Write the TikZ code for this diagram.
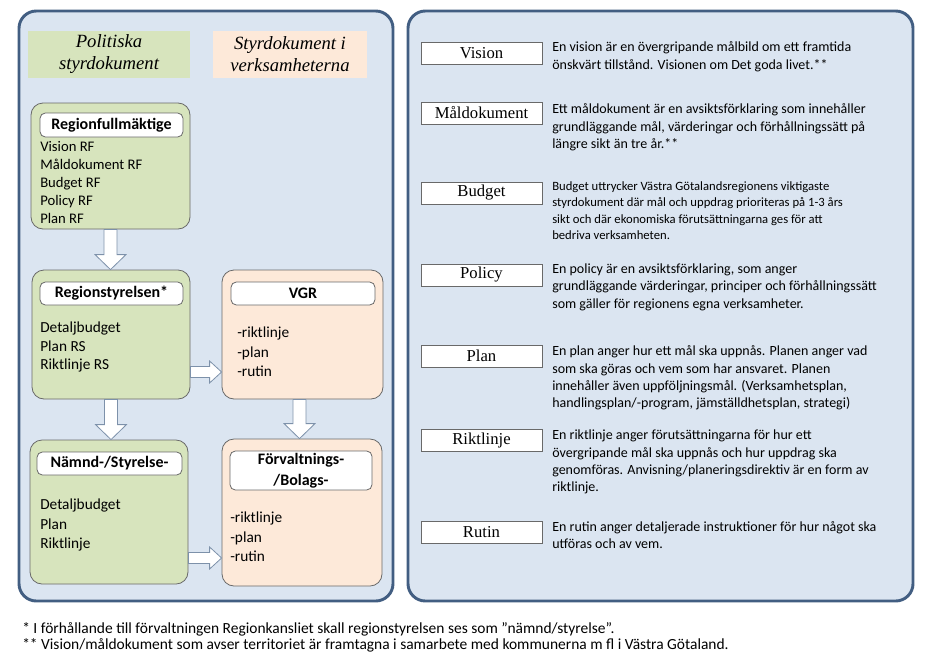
\documentclass[tikz,border=0pt]{standalone}
\usepackage{fontspec}
\setmainfont{Carlito}
\newfontfamily\labelfont{Liberation Serif}
\usepackage{tikz}
\usetikzlibrary{calc,positioning}

\definecolor{panelblue}{RGB}{219,229,241}
\definecolor{panelline}{RGB}{66,94,130}
\definecolor{polgreen}{RGB}{215,228,189}
\definecolor{verkpeach}{RGB}{253,233,217}
\definecolor{boxline}{RGB}{105,105,105}
\definecolor{arrowline}{RGB}{125,145,170}

\tikzset{
  panel/.style={draw=panelline, line width=2.2pt, fill=panelblue, rounded corners=13pt},
  header/.style={inner sep=0pt, align=center, font=\labelfont\itshape\fontsize{14}{16.5}\selectfont},
  orgbox/.style={draw=boxline, line width=0.6pt, rounded corners=9pt, inner sep=0pt},
  titlebox/.style={draw=boxline, line width=0.6pt, fill=white, rounded corners=4pt, inner sep=0pt,
    align=center, minimum height=17.25pt, font=\bfseries\fontsize{12}{15.5}\selectfont},
  doclist/.style={inner sep=0pt, anchor=north west, align=left, font=\fontsize{11}{13.5}\selectfont},
  termbox/.style={draw=boxline, line width=0.6pt, fill=white, inner sep=0pt, minimum width=90.75pt,
    minimum height=16.5pt, font=\labelfont\fontsize{12.5}{14}\selectfont},
  termtext/.style={inner sep=0pt, anchor=north west, align=left, font=\fontsize{10.5}{13}\selectfont},
  fatarrow/.style={draw=arrowline, line width=0.6pt, fill=white, line join=miter},
  footnote/.style={inner sep=0pt, anchor=west, font=\fontsize{11.6}{13}\selectfont},
}

% 粗箭头
\newcommand{\fatdown}[2]{%
  \draw[fatarrow] let \p1=#1, \p2=#2 in
    (\x1-4.9pt,\y1) -- (\x1-4.9pt,\y2+11.25pt) -- (\x1-11.6pt,\y2+11.25pt) -- (\x1,\y2)
    -- (\x1+11.6pt,\y2+11.25pt) -- (\x1+4.9pt,\y2+11.25pt) -- (\x1+4.9pt,\y1) -- cycle;}
\newcommand{\fatright}[2]{%
  \draw[fatarrow] let \p1=#1, \p2=#2 in
    (\x1,\y1+4.1pt) -- (\x2-9pt,\y1+4.1pt) -- (\x2-9pt,\y1+8.25pt) -- (\x2,\y1)
    -- (\x2-9pt,\y1-8.25pt) -- (\x2-9pt,\y1-4.1pt) -- (\x1,\y1-4.1pt) -- cycle;}

\begin{document}
\begin{tikzpicture}[x=0.75pt,y=-0.75pt]

        % 画布与两个面板
        \useasboundingbox (0,0) rectangle (930,653);
        \fill[white] (0,0) rectangle (930,653);
        \draw[panel] (19,11) rectangle (393,601);
        \draw[panel] (408,11) rectangle (913,601);

        % 栏目标题
        \node[header, fill=polgreen, minimum width=121.5pt, minimum height=35.25pt] (polhead) at (109,54) {Politiska\\styrdokument};
        \node[header, fill=verkpeach, minimum width=115.5pt, minimum height=35.25pt] (verkhead) at (290,54) {Styrdokument i\\verksamheterna};

        % 区域议会
        \node[orgbox, fill=polgreen, minimum width=119.25pt, minimum height=94.5pt] (rf) at (110.5,166) {};
        \node[titlebox, minimum width=107.25pt, minimum height=18pt] (rftitle) at (111.5,125) {Regionfullmäktige};
        \node[doclist] (rflist) at (40,141) {Vision RF\\Måldokument RF\\Budget RF\\Policy RF\\Plan RF};

        % 区域执行委员会
        \node[orgbox, fill=polgreen, minimum width=118.5pt, minimum height=96.75pt] (rs) at (111,334.5) {};
        \node[titlebox, minimum width=107.25pt] (rstitle) at (111.5,293.5) {Regionstyrelsen*};
        \node[doclist, font=\fontsize{11.5}{13.9}\selectfont] (rslist) at (40,322) {Detaljbudget\\Plan RS\\Riktlinje RS};

        % VGR
        \node[orgbox, fill=verkpeach, minimum width=120.75pt, minimum height=96.75pt] (vgr) at (302.5,334.5) {};
        \node[titlebox, minimum width=108pt] (vgrtitle) at (303,293.5) {VGR};
        \node[doclist, font=\fontsize{11.5}{14.6}\selectfont] (vgrlist) at (237,327) {-riktlinje\\-plan\\-rutin};

        % 委员会
        \node[orgbox, fill=polgreen, minimum width=118.5pt, minimum height=108pt] (nd) at (109,512) {};
        \node[titlebox, minimum width=108.75pt] (ndtitle) at (109.5,463.5) {Nämnd-/Styrelse-};
        \node[doclist, font=\fontsize{11.5}{14.6}\selectfont] (ndlist) at (40,499) {Detaljbudget\\Plan\\Riktlinje};

        % 管理机构/公司
        \node[orgbox, fill=verkpeach, minimum width=120pt, minimum height=110.25pt] (fv) at (302,512.5) {};
        \node[titlebox, minimum width=106.5pt, minimum height=29.25pt] (fvtitle) at (301,470.5) {Förvaltnings-\\/Bolags-};
        \node[doclist, font=\fontsize{11.5}{14.6}\selectfont] (fvlist) at (230,512) {-riktlinje\\-plan\\-rutin};

        % 箭头
        \coordinate (rsout) at (rs.east |- 0,372);
        \coordinate (vgrin) at (vgr.west |- 0,372);
        \coordinate (ndout) at (nd.east |- 0,558);
        \coordinate (fvin) at (fv.west |- 0,558);
        \coordinate (vgrout) at ($(vgr.south)+(-3,0)$);
        \coordinate (fvtop) at ($(fv.north)+(-2.5,0)$);
        \fatdown{(rf.south)}{(rs.north)}
        \fatdown{(rs.south)}{(nd.north)}
        \fatdown{(vgrout)}{(fvtop)}
        \fatright{(rsout)}{(vgrin)}
        \fatright{(ndout)}{(fvin)}

        % 术语方框
        \foreach \tname/\ty/\tlab in {vis/53/Vision, mal/113/Måldokument, bud/193/Budget, pol/275/Policy, pla/356/Plan, rik/440/Riktlinje, rut/532/Rutin}
        {
          \node[termbox] (\tname) at (481.5,\ty) {\tlab};
        }

        % 术语说明
        \node[termtext] (vistxt) at (552,41.5) {En vision är en övergripande målbild om ett framtida\\önskvärt tillstånd. Visionen om Det goda livet.**};
        \node[termtext] (maltxt) at (552,103.5) {Ett måldokument är en avsiktsförklaring som innehåller\\grundläggande mål, värderingar och förhållningssätt på\\längre sikt än tre år.**};
        \node[termtext, font=\fontsize{9.5}{12.2}\selectfont] (budtxt) at (552,181.5) {Budget uttrycker Västra Götalandsregionens viktigaste\\styrdokument där mål och uppdrag prioriteras på 1-3 års\\sikt och där ekonomiska förutsättningarna ges för att\\bedriva verksamheten.};
        \node[termtext] (poltxt) at (552,263.5) {En policy är en avsiktsförklaring, som anger\\grundläggande värderingar, principer och förhållningssätt\\som gäller för regionens egna verksamheter.};
        \node[termtext] (platxt) at (552,345.5) {En plan anger hur ett mål ska uppnås. Planen anger vad\\som ska göras och vem som har ansvaret. Planen\\innehåller även uppföljningsmål. (Verksamhetsplan,\\handlingsplan/-program, jämställdhetsplan, strategi)};
        \node[termtext] (riktxt) at (552,430) {En riktlinje anger förutsättningarna för hur ett\\övergripande mål ska uppnås och hur uppdrag ska\\genomföras. Anvisning/planeringsdirektiv är en form av\\riktlinje.};
        \node[termtext] (ruttxt) at (552,521) {En rutin anger detaljerade instruktioner för hur något ska\\utföras och av vem.};

        % 脚注
        \node[footnote] (fn1) at (22,629) {* I förhållande till förvaltningen Regionkansliet skall regionstyrelsen ses som ”nämnd/styrelse”.};
        \node[footnote] (fn2) at (22,645) {** Vision/måldokument som avser territoriet är framtagna i samarbete med kommunerna m fl i Västra Götaland.};

    \end{tikzpicture}
\end{document}
